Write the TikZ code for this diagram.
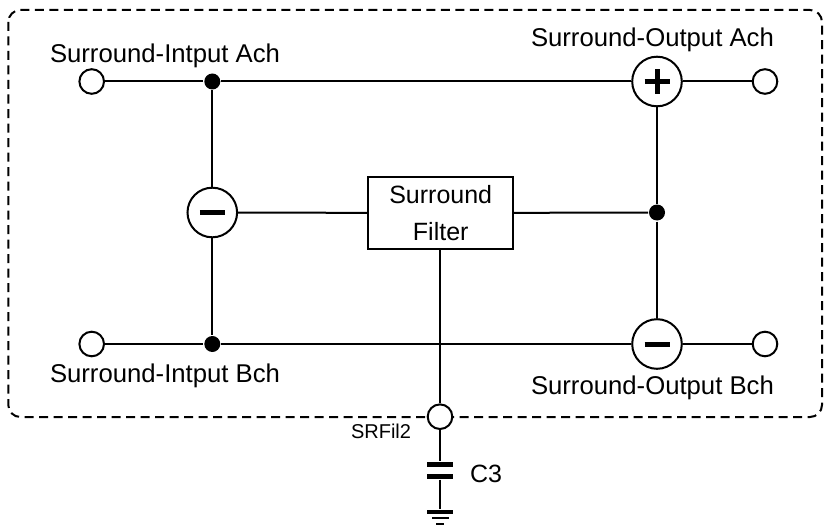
\documentclass[tikz,border=0pt]{standalone}
\usepackage{fontspec}
\setmainfont{Liberation Sans}
\begin{document}
\begin{tikzpicture}[x=1pt,y=-1pt,line width=2pt,
  term/.style={circle,draw,fill=white,minimum size=24.6pt,inner sep=0pt},
  opc/.style={circle,draw,fill=white,minimum size=49.6pt,inner sep=0pt},
  junc/.style={circle,fill,minimum size=16pt,inner sep=0pt},
  lbl/.style={inner sep=0pt,anchor=base west,font=\fontsize{25.7}{30}\selectfont},
  filt/.style={draw,minimum width=144.7pt,minimum height=72pt,align=center,inner sep=0pt,font=\fontsize{25}{36.6}\selectfont},
  plate/.style={fill,inner sep=0pt,minimum width=26pt,minimum height=5pt},
  gbar/.style={fill,inner sep=0pt,minimum height=2pt},
  sign/.style={line width=5pt}]
\useasboundingbox (0,0) rectangle (825,527);
% dashed border
\draw[dash pattern=on 9pt off 5.5pt,rounded corners=12pt] (8.3,10) rectangle (822,417);
% nodes
\node[term] (ia) at (91.7,81.5) {};
\node[term] (ib) at (91.7,344) {};
\node[term] (oa) at (765,81.5) {};
\node[term] (ob) at (765,344) {};
\node[junc] (ja) at (212.3,81.5) {};
\node[junc] (jb) at (212.3,344) {};
\node[opc] (sub1) at (212.3,212.5) {};
\node[opc] (add) at (657,81.5) {};
\node[opc] (sub2) at (657,344) {};
\node[junc] (jr) at (657,212.5) {};
\node[filt] (filter) at (440.7,213) {Surround\\Filter};
\node[term] (sr) at (440,416.7) {};
\node[plate] (c1) at (440,464.5) {};
\node[plate] (c2) at (440,476) {};
\node[fill,inner sep=0pt,minimum width=26pt,minimum height=4pt] (g1) at (440,512) {};
\node[gbar,minimum width=17pt] (g2) at (440,517.5) {};
\node[gbar,minimum width=8pt] (g3) at (440,524) {};
% connectors
\draw (ia) -- (ja) -- (add) -- (oa);
\draw (ib) -- (jb) -- (sub2) -- (ob);
\draw (ja) -- (sub1) -- (jb);
\draw (sub1) -- (filter);
\draw (filter) -- (jr);
\draw (add) -- (jr) -- (sub2);
\draw (filter.south -| sr) -- (sr);
\draw (sr) -- (c1);
\draw (c2) -- (g1);
% signs
\draw[sign] ([xshift=-12.5pt]add.center) -- ([xshift=12.5pt]add.center);
\draw[sign] ([yshift=-12.5pt]add.center) -- ([yshift=12.5pt]add.center);
\draw[sign] ([xshift=-12.5pt]sub1.center) -- ([xshift=12.5pt]sub1.center);
\draw[sign] ([xshift=-12.5pt]sub2.center) -- ([xshift=12.5pt]sub2.center);
% labels
\node[lbl] (lia) at (49,63) {Surround-Intput Ach};
\node[lbl] (loa) at (530,47) {Surround-Output Ach};
\node[lbl] (lib) at (49,382) {Surround-Intput Bch};
\node[lbl] (lob) at (530,394) {Surround-Output Bch};
\node[lbl,font=\fontsize{20}{24}\selectfont] (lsr) at (350,438) {SRFil2};
\node[lbl,font=\fontsize{25}{30}\selectfont] (lc3) at (469,482) {C3};
\end{tikzpicture}
\end{document}
